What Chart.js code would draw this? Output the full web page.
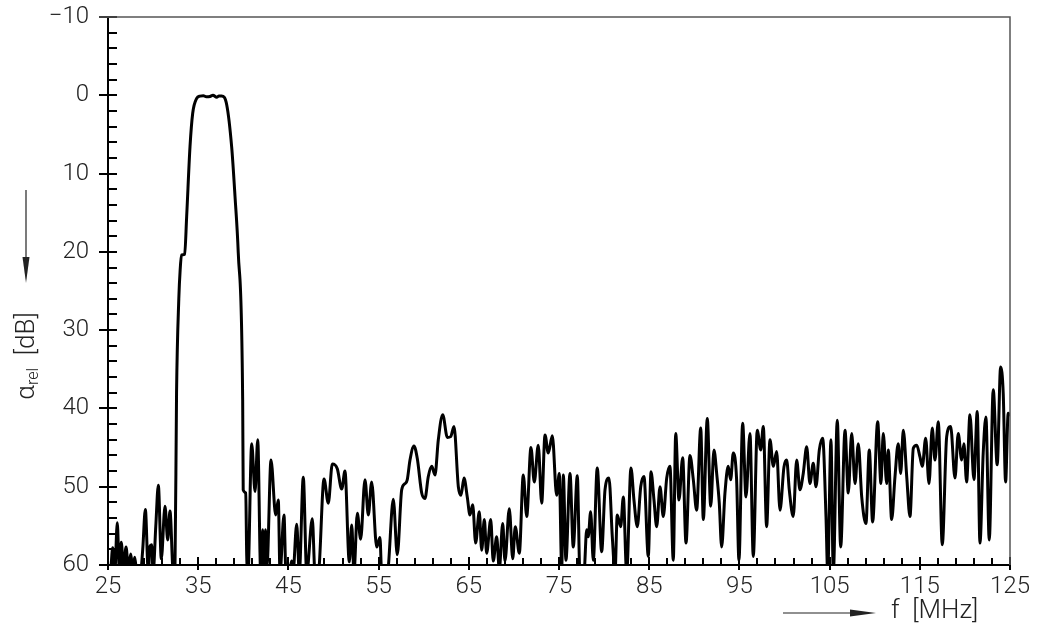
<!DOCTYPE html>
<html>
<head>
<meta charset="utf-8">
<style>
  html, body { margin: 0; padding: 0; background: #fff; }
</style>
<script src="https://cdn.jsdelivr.net/npm/chart.js@4.4.0/dist/chart.umd.min.js"></script>
</head>
<body>
<canvas id="chart" width="1037" height="633"></canvas>
<script>
// [f in MHz, attenuation in dB]; values past 60 dB run off the bottom of the plot
const belowBand = [
  [25.0, 61], [25.3, 60.5], [25.52, 57.8], [25.75, 61], [26.03, 54.6], [26.25, 60.5],
  [26.47, 57.1], [26.72, 60.5], [27.0, 57.7], [27.26, 60.5], [27.52, 58.6], [27.75, 60.5],
  [27.96, 59.0], [28.2, 61], [28.6, 61], [28.85, 58], [29.14, 52.9], [29.47, 61],
  [29.65, 57.6], [29.84, 57.4], [30.0, 61], [30.3, 55], [30.58, 49.8], [30.91, 59.2],
  [31.32, 52.5], [31.62, 56.8], [31.87, 53.1], [32.24, 61]
];
const passBand = [
  [32.43, 60], [32.6, 38], [32.85, 26], [33.0, 22.3], [33.15, 20.4], [33.5, 20.3],
  [33.72, 15.5], [34.09, 6.6], [34.39, 2.3], [34.83, 0.4], [35.2, 0.1], [35.57, 0.05],
  [35.9, 0.2], [36.31, 0.15], [36.64, 0.0], [37.05, 0.25], [37.3, 0.1], [37.6, 0.1],
  [38.16, 1.2], [38.71, 6.6], [39.08, 12.9], [39.44, 20.1], [39.93, 38.9], [39.99, 50.4],
  [40.27, 50.8], [40.38, 58.9], [40.52, 61]
];
const aboveBand = [
  [40.93, 44.5], [41.3, 50.6], [41.6, 44.0], [41.93, 61], [42.15, 55.5], [42.3, 61],
  [42.46, 55.5], [42.63, 60], [43.07, 46.6], [43.59, 53.6], [43.88, 51.7], [44.07, 61],
  [44.51, 53.6], [44.73, 61], [45.18, 60.5], [45.37, 59.5], [45.51, 61], [45.92, 54.8],
  [46.21, 61], [46.65, 48.8], [47.03, 61], [47.65, 54.1], [47.95, 61], [48.31, 61],
  [48.95, 49.0], [49.42, 52.1], [49.87, 47.1], [50.42, 47.7], [50.91, 50.3], [51.27, 48.0],
  [51.75, 59.6], [52.02, 54.9], [52.27, 61], [52.64, 53.4], [53.01, 56.7], [53.49, 49.1],
  [53.86, 53.6], [54.23, 49.4], [54.79, 57.7], [55.15, 56.5], [55.34, 61], [55.96, 61],
  [56.63, 51.6], [57.07, 58.7], [57.56, 50.4], [57.93, 49.6], [58.18, 49.1], [58.48, 46.6],
  [58.92, 44.8], [59.29, 46.4], [59.78, 50.8], [60.14, 51.5], [60.51, 48.7], [60.89, 47.4],
  [61.25, 48.5], [61.62, 44.0], [62.11, 40.8], [62.62, 43.7], [62.99, 43.6], [63.36, 42.3],
  [63.84, 50.0], [64.13, 51.1], [64.47, 48.9], [64.83, 51.3], [65.13, 53.6], [65.43, 52.3],
  [65.76, 57.2], [66.16, 53.2], [66.43, 58.1], [66.72, 54.2], [66.98, 58.5], [67.43, 54.2],
  [67.71, 59.5], [68.09, 56.4], [68.38, 60.5], [68.76, 54.7], [69.01, 59.5], [69.49, 52.8],
  [69.87, 59.2], [70.15, 55.1], [70.6, 58.5], [71.04, 48.5], [71.42, 53.8], [71.89, 45.0],
  [72.26, 49.4], [72.7, 44.7], [73.08, 52.1], [73.45, 43.4], [73.81, 45.7], [74.26, 43.5],
  [74.74, 51.1], [75.03, 48.3]
];
const upperRange = [
  [75.3, 60.5], [75.48, 48.5], [75.77, 59.4], [76.22, 48.3], [76.58, 57.7], [77.03, 48.6],
  [77.32, 61], [77.77, 61], [78.07, 55.5], [78.24, 56.4], [78.51, 53.2], [78.8, 59.4],
  [79.24, 47.6], [79.73, 58.3], [80.1, 50.4], [80.54, 48.9], [80.91, 56.4], [81.21, 61],
  [81.46, 53.6], [81.84, 55.1], [82.13, 51.3], [82.5, 61], [82.98, 47.6], [83.31, 51.7],
  [83.68, 55.1], [84.06, 50.0], [84.42, 48.7], [84.9, 58.9], [85.2, 48.1], [85.53, 51.7],
  [85.83, 55.1], [86.2, 50.0], [86.56, 53.8], [86.94, 48.9], [87.3, 47.4], [87.67, 59.4],
  [87.94, 43.2], [88.3, 51.7], [88.71, 46.3], [89.08, 57.2], [89.52, 46.0], [89.89, 49.1],
  [90.26, 53.0], [90.71, 42.5], [91.0, 54.2], [91.44, 41.3], [91.82, 52.5], [92.18, 45.3],
  [92.48, 48.3], [92.77, 52.1], [93.03, 57.7], [93.4, 50.8], [93.76, 47.4], [94.03, 49.1],
  [94.32, 45.7], [94.69, 49.1], [94.95, 59.4], [95.36, 41.9], [95.73, 51.3], [96.17, 43.2],
  [96.54, 58.9], [96.98, 42.8], [97.36, 45.3], [97.65, 42.3], [98.02, 55.1], [98.39, 44.0],
  [98.76, 47.4], [99.13, 45.5], [99.5, 53.0], [99.94, 47.5]
];
const topRange = [
  [100.24, 46.6], [100.53, 50.4], [100.97, 53.8], [101.35, 46.6], [101.71, 50.4], [102.08, 48.3],
  [102.46, 44.9], [102.82, 49.6], [103.19, 47.0], [103.49, 50.0], [103.86, 45.3], [104.23, 43.8],
  [104.6, 53.8], [104.79, 61], [105.15, 44.0], [105.41, 61], [105.85, 41.5], [106.23, 57.7],
  [106.71, 42.8], [107.07, 50.8], [107.45, 43.2], [107.82, 49.6], [108.18, 44.5], [108.56, 51.3],
  [109.03, 54.7], [109.4, 45.3], [109.77, 54.5], [110.33, 41.7], [110.69, 49.6], [110.95, 43.2],
  [111.33, 49.6], [111.5, 45.3], [111.88, 54.2], [112.25, 48.7], [112.61, 44.5], [112.88, 48.3],
  [113.17, 42.8], [113.55, 48.7], [113.91, 53.8], [114.28, 45.1], [114.66, 44.7], [115.02, 46.2],
  [115.28, 47.4], [115.65, 43.8], [116.02, 49.6], [116.38, 42.5], [116.68, 46.6], [117.05, 41.7],
  [117.49, 57.4], [117.98, 43.6], [118.42, 42.3], [118.9, 48.9], [119.26, 43.2], [119.64, 46.6],
  [119.89, 44.5], [120.19, 49.4], [120.56, 40.8], [121.0, 49.1], [121.37, 40.4], [121.67, 57.2],
  [122.03, 45.7], [122.33, 41.1], [122.7, 56.8], [123.14, 37.6], [123.58, 47.2], [123.96, 34.7],
  [124.25, 38.1], [124.51, 49.4], [124.8, 40.6], [125.0, 41.0]
];

const xTickLabels = [25, 35, 45, 55, 65, 75, 85, 95, 105, 115, 125];
const yTickLabels = [-10, 0, 10, 20, 30, 40, 50, 60];
const xMinorStep = 2;
const yMinorStep = 2;

const trace = [...belowBand, ...passBand, ...aboveBand, ...upperRange, ...topRange]
  .map(([f, a]) => ({ x: f, y: a }));

const tickFont = { family: 'Roboto, "DejaVu Sans", sans-serif', size: 24, weight: '300' };

// inward tick marks, drawn under the trace like in the original plot
const innerTicks = {
  id: 'innerTicks',
  beforeDatasetsDraw(chart) {
    const { ctx, chartArea: a, scales: { x, y } } = chart;
    ctx.save();
    ctx.strokeStyle = '#000';
    ctx.lineWidth = 2;
    ctx.beginPath();
    for (let v = y.min; v <= y.max; v += yMinorStep) {
      const py = Math.round(y.getPixelForValue(v));
      ctx.moveTo(a.left, py);
      ctx.lineTo(a.left + 9, py);
    }
    for (let v = x.min; v <= x.max; v += xMinorStep) {
      const px = Math.round(x.getPixelForValue(v));
      const len = xTickLabels.includes(v) ? 8 : 7;
      ctx.moveTo(px, a.bottom);
      ctx.lineTo(px, a.bottom - len);
    }
    ctx.stroke();
    ctx.restore();
  }
};

// frame on top/right plus the arrowed axis titles
const frameAndTitles = {
  id: 'frameAndTitles',
  afterDraw(chart) {
    const { ctx, chartArea: a } = chart;
    ctx.save();
    ctx.strokeStyle = '#555';
    ctx.lineWidth = 1.5;
    ctx.beginPath();
    ctx.moveTo(a.left - 9, a.top);
    ctx.lineTo(a.right, a.top);
    ctx.lineTo(a.right, a.bottom);
    ctx.stroke();

    ctx.fillStyle = '#222';
    ctx.strokeStyle = '#222';
    ctx.lineWidth = 1.2;

    // y arrow pointing down
    ctx.beginPath();
    ctx.moveTo(26, 190);
    ctx.lineTo(26, 262);
    ctx.stroke();
    ctx.beginPath();
    ctx.moveTo(22.5, 257);
    ctx.lineTo(29.5, 257);
    ctx.lineTo(26, 283);
    ctx.closePath();
    ctx.fill();

    // x arrow pointing right
    ctx.beginPath();
    ctx.moveTo(783, 613);
    ctx.lineTo(855, 613);
    ctx.stroke();
    ctx.beginPath();
    ctx.moveTo(850, 609.5);
    ctx.lineTo(850, 616.5);
    ctx.lineTo(876, 613);
    ctx.closePath();
    ctx.fill();

    const fam = tickFont.family;
    ctx.textBaseline = 'middle';
    ctx.textAlign = 'left';
    ctx.font = `300 26px ${fam}`;
    ctx.fillText('f  [MHz]', 891, 611);

    // rotated y title: alpha with "rel" subscript, then [dB]
    ctx.translate(27, 356);
    ctx.rotate(-Math.PI / 2);
    const big = `300 26px ${fam}`;
    const small = `300 16px ${fam}`;
    ctx.font = big;
    const wA = ctx.measureText('\u03B1').width;
    const wU = ctx.measureText('  [dB]').width;
    ctx.font = small;
    const wS = ctx.measureText('rel').width;
    let px = -(wA + wS + wU) / 2;
    ctx.font = big;
    ctx.fillText('\u03B1', px, 0);
    px += wA;
    ctx.font = small;
    ctx.fillText('rel', px, 7);
    px += wS;
    ctx.font = big;
    ctx.fillText('  [dB]', px, 0);
    ctx.restore();
  }
};

new Chart(document.getElementById('chart'), {
  type: 'line',
  data: {
    datasets: [{
      data: trace,
      borderColor: '#000',
      borderWidth: 3,
      pointRadius: 0,
      fill: false,
      cubicInterpolationMode: 'monotone',
      clip: 0
    }]
  },
  options: {
    responsive: false,
    animation: false,
    layout: { padding: { left: 0, top: 17, right: 27, bottom: 0 } },
    plugins: { legend: { display: false }, tooltip: { enabled: false } },
    scales: {
      x: {
        type: 'linear',
        min: 25,
        max: 125,
        afterBuildTicks: s => { s.ticks = xTickLabels.map(v => ({ value: v })); },
        afterFit: s => { s.height = 68; s.paddingLeft = 0; s.paddingRight = 0; },
        border: { color: '#000', width: 2 },
        grid: { drawOnChartArea: false, drawTicks: true, tickLength: 5, color: '#000', lineWidth: 2 },
        ticks: { padding: 3, color: '#222', font: tickFont, maxRotation: 0 }
      },
      y: {
        type: 'linear',
        reverse: true,
        min: -10,
        max: 60,
        afterBuildTicks: s => { s.ticks = yTickLabels.map(v => ({ value: v })); },
        afterFit: s => { s.width = 108; s.paddingTop = 0; s.paddingBottom = 0; },
        border: { color: '#000', width: 2 },
        grid: { drawOnChartArea: false, drawTicks: true, tickLength: 9, color: '#000', lineWidth: 2 },
        ticks: {
          padding: 10,
          color: '#222',
          font: tickFont,
          callback: v => (v < 0 ? '\u2212' + Math.abs(v) : String(v))
        }
      }
    }
  },
  plugins: [innerTicks, frameAndTitles]
});
</script>
</body>
</html>
